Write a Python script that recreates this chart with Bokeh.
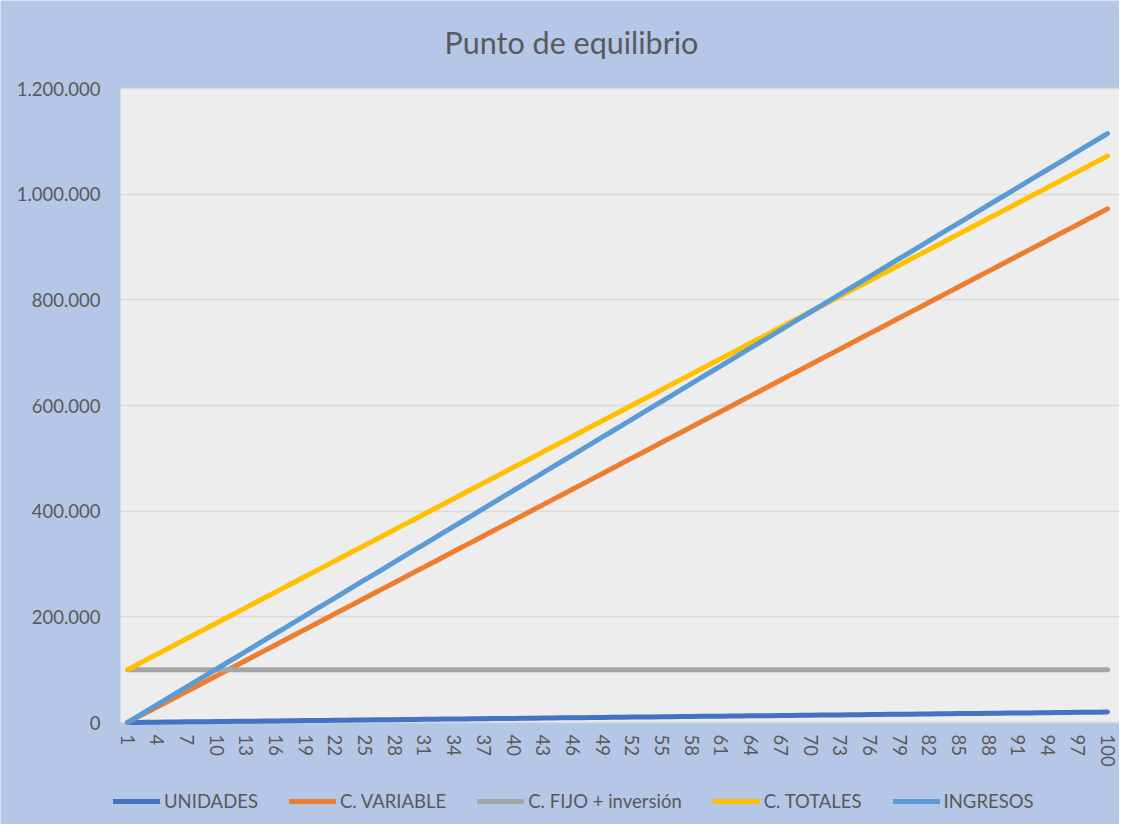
from bokeh.plotting import figure
from bokeh.models import (ColumnDataSource, Range1d, FixedTicker, Legend, LegendItem,
                          BoxAnnotation, Label)
from bokeh.embed import file_html
from bokeh.resources import INLINE

# ---------------- data ----------------
periodos = [1, 2, 3, 4, 5, 6, 7, 8, 9, 10, 11, 12, 13, 14, 15, 16, 17, 18, 19, 20,
            21, 22, 23, 24, 25, 26, 27, 28, 29, 30, 31, 32, 33, 34, 35, 36, 37, 38, 39, 40,
            41, 42, 43, 44, 45, 46, 47, 48, 49, 50, 51, 52, 53, 54, 55, 56, 57, 58, 59, 60,
            61, 62, 63, 64, 65, 66, 67, 68, 69, 70, 71, 72, 73, 74, 75, 76, 77, 78, 79, 80,
            81, 82, 83, 84, 85, 86, 87, 88, 89, 90, 91, 92, 93, 94, 95, 96, 97, 98, 99, 100]

unidades = [0, 200, 400, 600, 800, 1000, 1200, 1400, 1600, 1800,
            2000, 2200, 2400, 2600, 2800, 3000, 3200, 3400, 3600, 3800,
            4000, 4200, 4400, 4600, 4800, 5000, 5200, 5400, 5600, 5800,
            6000, 6200, 6400, 6600, 6800, 7000, 7200, 7400, 7600, 7800,
            8000, 8200, 8400, 8600, 8800, 9000, 9200, 9400, 9600, 9800,
            10000, 10200, 10400, 10600, 10800, 11000, 11200, 11400, 11600, 11800,
            12000, 12200, 12400, 12600, 12800, 13000, 13200, 13400, 13600, 13800,
            14000, 14200, 14400, 14600, 14800, 15000, 15200, 15400, 15600, 15800,
            16000, 16200, 16400, 16600, 16800, 17000, 17200, 17400, 17600, 17800,
            18000, 18200, 18400, 18600, 18800, 19000, 19200, 19400, 19600, 19800]

c_variable = [0, 9820, 19640, 29460, 39280, 49100, 58920, 68740, 78560, 88380,
              98200, 108020, 117840, 127660, 137480, 147300, 157120, 166940, 176760, 186580,
              196400, 206220, 216040, 225860, 235680, 245500, 255320, 265140, 274960, 284780,
              294600, 304420, 314240, 324060, 333880, 343700, 353520, 363340, 373160, 382980,
              392800, 402620, 412440, 422260, 432080, 441900, 451720, 461540, 471360, 481180,
              491000, 500820, 510640, 520460, 530280, 540100, 549920, 559740, 569560, 579380,
              589200, 599020, 608840, 618660, 628480, 638300, 648120, 657940, 667760, 677580,
              687400, 697220, 707040, 716860, 726680, 736500, 746320, 756140, 765960, 775780,
              785600, 795420, 805240, 815060, 824880, 834700, 844520, 854340, 864160, 873980,
              883800, 893620, 903440, 913260, 923080, 932900, 942720, 952540, 962360, 972180]

c_fijo_inversion = [100000, 100000, 100000, 100000, 100000, 100000, 100000, 100000, 100000, 100000,
                    100000, 100000, 100000, 100000, 100000, 100000, 100000, 100000, 100000, 100000,
                    100000, 100000, 100000, 100000, 100000, 100000, 100000, 100000, 100000, 100000,
                    100000, 100000, 100000, 100000, 100000, 100000, 100000, 100000, 100000, 100000,
                    100000, 100000, 100000, 100000, 100000, 100000, 100000, 100000, 100000, 100000,
                    100000, 100000, 100000, 100000, 100000, 100000, 100000, 100000, 100000, 100000,
                    100000, 100000, 100000, 100000, 100000, 100000, 100000, 100000, 100000, 100000,
                    100000, 100000, 100000, 100000, 100000, 100000, 100000, 100000, 100000, 100000,
                    100000, 100000, 100000, 100000, 100000, 100000, 100000, 100000, 100000, 100000,
                    100000, 100000, 100000, 100000, 100000, 100000, 100000, 100000, 100000, 100000]

c_totales = [100000, 109820, 119640, 129460, 139280, 149100, 158920, 168740, 178560, 188380,
             198200, 208020, 217840, 227660, 237480, 247300, 257120, 266940, 276760, 286580,
             296400, 306220, 316040, 325860, 335680, 345500, 355320, 365140, 374960, 384780,
             394600, 404420, 414240, 424060, 433880, 443700, 453520, 463340, 473160, 482980,
             492800, 502620, 512440, 522260, 532080, 541900, 551720, 561540, 571360, 581180,
             591000, 600820, 610640, 620460, 630280, 640100, 649920, 659740, 669560, 679380,
             689200, 699020, 708840, 718660, 728480, 738300, 748120, 757940, 767760, 777580,
             787400, 797220, 807040, 816860, 826680, 836500, 846320, 856140, 865960, 875780,
             885600, 895420, 905240, 915060, 924880, 934700, 944520, 954340, 964160, 973980,
             983800, 993620, 1003440, 1013260, 1023080, 1032900, 1042720, 1052540, 1062360, 1072180]

ingresos = [0, 11260, 22520, 33780, 45040, 56300, 67560, 78820, 90080, 101340,
            112600, 123860, 135120, 146380, 157640, 168900, 180160, 191420, 202680, 213940,
            225200, 236460, 247720, 258980, 270240, 281500, 292760, 304020, 315280, 326540,
            337800, 349060, 360320, 371580, 382840, 394100, 405360, 416620, 427880, 439140,
            450400, 461660, 472920, 484180, 495440, 506700, 517960, 529220, 540480, 551740,
            563000, 574260, 585520, 596780, 608040, 619300, 630560, 641820, 653080, 664340,
            675600, 686860, 698120, 709380, 720640, 731900, 743160, 754420, 765680, 776940,
            788200, 799460, 810720, 821980, 833240, 844500, 855760, 867020, 878280, 889540,
            900800, 912060, 923320, 934580, 945840, 957100, 968360, 979620, 990880, 1002140,
            1013400, 1024660, 1035920, 1047180, 1058440, 1069700, 1080960, 1092220, 1103480, 1114740]

titulo = "Punto de equilibrio"
series_names = ["UNIDADES", "C. VARIABLE", "C. FIJO + inversión", "C. TOTALES", "INGRESOS"]
series_colors = ["#4472C4", "#ED7D31", "#A5A5A5", "#FFC000", "#5B9BD5"]

x_ticks = [1, 4, 7, 10, 13, 16, 19, 22, 25, 28, 31, 34, 37, 40, 43, 46, 49, 52, 55, 58,
           61, 64, 67, 70, 73, 76, 79, 82, 85, 88, 91, 94, 97, 100]
y_ticks = [0, 200000, 400000, 600000, 800000, 1000000, 1200000]
y_tick_labels = ["0", "200.000", "400.000", "600.000", "800.000", "1.000.000", "1.200.000"]

# ---------------- layout geometry (pixels) ----------------
W, H = 1119, 824
PLOT_L, PLOT_T, PLOT_B = 120, 88, 722     # plot-area edges inside the figure
CAT1_PX, CAT_STEP = 127, 9.899           # pixel of category 1, pixels per category
Y_MAX = 1200000
ypp = Y_MAX / (PLOT_B - PLOT_T)          # value units per pixel
x_start = 1 - CAT1_PX / CAT_STEP
x_end = x_start + W / CAT_STEP
x_plot_left = 1 - (CAT1_PX - PLOT_L) / CAT_STEP
y_start = -(H - PLOT_B) * ypp
y_end = Y_MAX + PLOT_T * ypp

FONT = "Lato"
TXT = "#595959"
FS = "18.5px"
CHART_BG = "#B4C7E7"
PLOT_BG = "#EDEDED"
GRID = "#D9D9D9"

p = figure(width=W, height=H, output_backend="svg", toolbar_location=None,
           x_range=Range1d(x_start, x_end), y_range=Range1d(y_start, y_end),
           min_border=0, min_border_left=0, min_border_right=0,
           min_border_top=0, min_border_bottom=0)
p.title = None
p.border_fill_color = CHART_BG
p.background_fill_color = CHART_BG
p.outline_line_color = None

# plot area
p.add_layout(BoxAnnotation(left=x_plot_left, bottom=0, top=Y_MAX, fill_color=PLOT_BG,
                           fill_alpha=1, line_color=None, level="image"))

# title
p.add_layout(Label(x=x_start + 571 / CAT_STEP, y=y_end - 41 * ypp, text=titulo,
                   text_align="center", text_baseline="alphabetic",
                   text_font=FONT, text_font_size="30.5px", text_color=TXT))

src = ColumnDataSource(dict(x=periodos, u=unidades, v=c_variable, f=c_fijo_inversion,
                            t=c_totales, i=ingresos))
cols = ["u", "v", "f", "t", "i"]
renderers = []
for col, name, color in zip(cols, series_names, series_colors):
    r = p.line("x", col, source=src, line_color=color, line_width=5,
               line_cap="round", line_join="round")
    renderers.append(r)

# axes
p.xaxis.fixed_location = 0
p.xaxis.bounds = (x_plot_left, x_end)
p.xaxis.ticker = FixedTicker(ticks=x_ticks)
p.xaxis.major_label_orientation = "vertical"
p.xaxis.axis_line_color = None
p.xaxis.major_tick_line_color = None
p.xaxis.minor_tick_line_color = None
p.xaxis.major_label_standoff = 6
p.xaxis.major_label_text_font = FONT
p.xaxis.major_label_text_font_size = FS
p.xaxis.major_label_text_color = TXT

p.yaxis.fixed_location = x_plot_left
p.yaxis.bounds = (0, Y_MAX)
p.yaxis.ticker = FixedTicker(ticks=y_ticks)
p.yaxis.major_label_overrides = {t: l for t, l in zip(y_ticks, y_tick_labels)}
p.yaxis.axis_line_color = None
p.yaxis.major_tick_line_color = None
p.yaxis.minor_tick_line_color = None
p.yaxis.major_label_standoff = 14
p.yaxis.major_label_text_font = FONT
p.yaxis.major_label_text_font_size = FS
p.yaxis.major_label_text_color = TXT

p.xgrid.grid_line_color = None
p.ygrid.grid_line_color = GRID
p.ygrid.grid_line_width = 1.5
p.ygrid.ticker = FixedTicker(ticks=y_ticks)
p.ygrid.level = "underlay"
try:
    p.ygrid.cross_bounds = (x_plot_left, x_end)
except Exception:
    pass

legend = Legend(items=[LegendItem(label=n, renderers=[r]) for n, r in zip(series_names, renderers)],
                orientation="horizontal", location=(113, 12),
                glyph_width=47, glyph_height=20, label_height=20, label_standoff=4, spacing=31,
                padding=0, margin=0, border_line_alpha=0, background_fill_alpha=0,
                label_text_font=FONT, label_text_font_size=FS, label_text_color=TXT)
p.add_layout(legend, "center")

open("out.html", "w").write(file_html(p, INLINE))
